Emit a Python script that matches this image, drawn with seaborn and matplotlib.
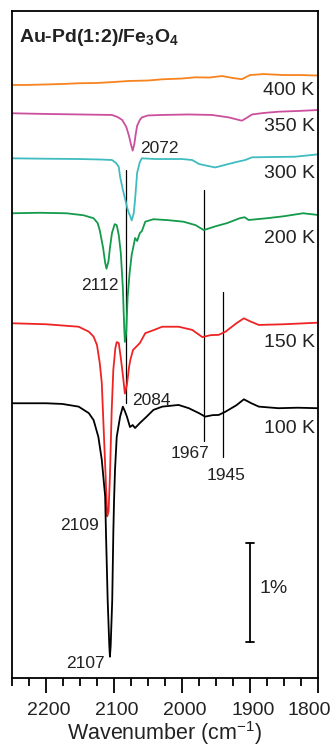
import matplotlib
matplotlib.use('Agg')
import numpy as np
import pandas as pd
import matplotlib.pyplot as plt
from matplotlib.ticker import MultipleLocator
from matplotlib.transforms import ScaledTranslation
import seaborn as sns

# ---------------- data ----------------
temps = ['400 K', '350 K', '300 K', '200 K', '150 K', '100 K']
colors = ['#F7831F', '#CC4F9E', '#3FBCC0', '#139A4B', '#EE2424', '#000000']
offsets = [5.99, 5.697, 5.242, 4.694, 3.583, 2.775]
label_y = [5.889, 5.525, 5.047, 4.391, 3.347, 2.472]

wn_400 = [2250, 2230, 2200, 2175, 2152, 2125, 2100, 2078, 2050, 2029, 2000, 1981,
          1960, 1941, 1925, 1912, 1900, 1880, 1850, 1825, 1800]
ab_400 = [0, 0.0, 0.005, 0.01, 0.017, 0.02, 0.03, 0.04, 0.045, 0.057, 0.065, 0.077,
          0.075, 0.09, 0.07, 0.058, 0.10, 0.11, 0.10, 0.10, 0.095]

wn_350 = [2250, 2200, 2150, 2103, 2095, 2088, 2082, 2078, 2075, 2072.5, 2070, 2068,
          2066, 2062, 2059, 2050, 2029, 1990, 1956, 1931, 1912, 1905, 1897, 1880,
          1858, 1830, 1800]
ab_350 = [0.007, 0.0, -0.005, -0.01, -0.03, -0.06, -0.13, -0.22, -0.31, -0.37, -0.30, -0.2,
          -0.12, -0.06, -0.035, -0.015, -0.01, -0.005, -0.01, -0.035, -0.068, -0.04, -0.005, 0.01,
          0.023, 0.03, 0.04]

wn_300 = [2250, 2200, 2152, 2120, 2103, 2097, 2093, 2091, 2087, 2081, 2079, 2076, 2074,
          2071, 2069, 2066, 2062, 2059, 2040, 2000, 1985, 1975, 1962, 1951, 1937, 1920,
          1907, 1897, 1870, 1834, 1800]
ab_300 = [0.007, 0.003, 0.0, -0.005, -0.01, -0.04, -0.08, -0.18, -0.31, -0.48, -0.53, -0.58, -0.62,
          -0.55, -0.41, -0.14, -0.03, 0.007, 0.0, 0.0, -0.01, -0.05, -0.07, -0.085, -0.06, -0.03,
          -0.01, 0.017, 0.02, 0.023, 0.047]

wn_200 = [2250, 2210, 2170, 2145, 2130, 2124, 2121, 2116, 2113, 2111, 2108, 2106, 2103,
          2099, 2096, 2093, 2090, 2087, 2085, 2084, 2082, 2080, 2077, 2074, 2071, 2069,
          2066, 2062, 2059, 2054, 2042, 2020, 1998, 1980, 1968, 1950, 1934, 1915, 1908,
          1902, 1890, 1875, 1850, 1822, 1800]
ab_200 = [0, 0.005, 0, -0.02, -0.05, -0.1, -0.17, -0.35, -0.5, -0.56, -0.48, -0.35, -0.2,
          -0.11, -0.12, -0.22, -0.4, -0.75, -1.15, -1.3, -1.2, -0.85, -0.6, -0.42, -0.32, -0.25,
          -0.28, -0.2, -0.18, -0.085, -0.06, -0.07, -0.085, -0.12, -0.17, -0.13, -0.1, -0.05, -0.04,
          -0.068, -0.06, -0.05, -0.03, 0, -0.017]

wn_150 = [2250, 2200, 2152, 2137, 2130, 2125, 2121, 2118, 2115, 2112, 2110, 2108, 2106,
          2103.4, 2101, 2098, 2096, 2093, 2090, 2087, 2084, 2081, 2078, 2076, 2072, 2062,
          2054, 2042, 2029, 2005, 1985, 1970, 1958, 1946, 1936, 1920, 1909, 1900, 1887,
          1850, 1800]
ab_150 = [0, -0.01, -0.035, -0.085, -0.135, -0.22, -0.4, -0.6, -1.1, -1.6, -1.95, -1.9, -1.55,
          -0.88, -0.47, -0.25, -0.19, -0.2, -0.35, -0.52, -0.71, -0.62, -0.45, -0.37, -0.27, -0.2,
          -0.1, -0.07, -0.035, -0.035, -0.067, -0.14, -0.12, -0.117, -0.085, 0.0, 0.05, 0.02, -0.017,
          -0.01, 0.006]

wn_100 = [2250, 2200, 2176, 2152, 2137, 2130, 2123, 2118, 2113, 2111.8, 2109.3, 2106.9,
          2106, 2104.9, 2102.6, 2101, 2100, 2098.5, 2096, 2091, 2087, 2084, 2081, 2076.5,
          2072.5, 2069, 2062, 2052, 2042, 2029, 2005, 1990, 1975, 1966, 1955, 1946, 1936,
          1920, 1909, 1898, 1887, 1858, 1830, 1800]
ab_100 = [0, 0.0, -0.007, -0.034, -0.1, -0.17, -0.34, -0.57, -0.94, -1.31, -1.99, -2.45,
          -2.56, -2.45, -1.99, -1.31, -1.0, -0.67, -0.34, -0.135, -0.034, -0.08, -0.135, -0.24,
          -0.22, -0.25, -0.2, -0.135, -0.067, -0.034, -0.017, -0.05, -0.1, -0.135, -0.12, -0.118, -0.085,
          -0.02, 0.04, 0.0, -0.034, -0.05, -0.045, -0.05]

wavenumbers = [wn_400, wn_350, wn_300, wn_200, wn_150, wn_100]
absorb = [ab_400, ab_350, ab_300, ab_200, ab_150, ab_100]

# marker lines
mark_wn = [2082, 1968, 1939]
mark_top = [5.13, 4.93, 3.90]
mark_bot = [2.78, 2.39, 2.235]

# peak labels
peak_text = ['2072', '2112', '2084', '2109', '2107', '1967', '1945']
peak_x = [2061.6, 2093.7, 2074, 2122, 2113.2, 1988, 1935.6]
peak_y = [5.30, 3.919, 2.758, 1.495, 0.101, 2.222, 2.0]
peak_ha = ['left', 'right', 'left', 'right', 'right', 'center', 'center']

# x ticks
tick_vals = [2200, 2100, 2000, 1900, 1800]
tick_labels = ['2200', '2100', '2000', '1900', '1800']

# scale bar (1 %)
bar_wn = 1900
bar_lo, bar_hi = 0.364, 1.364

# ---------------- build table ----------------
rows = []
for t, off, wns, abs_ in zip(temps, offsets, wavenumbers, absorb):
    for w, a in zip(wns, abs_):
        rows.append({'wn': w, 'val': a + off, 'temp': t})
df = pd.DataFrame(rows)

sns.set_theme(style='white')
plt.rcParams['font.family'] = ['Liberation Sans', 'DejaVu Sans']
plt.rcParams['mathtext.default'] = 'regular'

fig = plt.figure(figsize=(3.33, 7.51), dpi=100)
ax = fig.add_axes([12 / 333, 1 - 678 / 751, 306 / 333, 667 / 751])

sns.lineplot(data=df, x='wn', y='val', hue='temp', palette=dict(zip(temps, colors)),
             hue_order=temps, estimator=None, sort=False, legend=False, lw=1.3, ax=ax)

for w, top, bot in zip(mark_wn, mark_top, mark_bot):
    ax.plot([w, w], [bot, top], color='black', lw=0.9, zorder=1)

for t, y in zip(temps, label_y):
    ax.text(1805, y, t, ha='right', va='baseline', fontsize=14, color='#222222')

for s, x, y, ha in zip(peak_text, peak_x, peak_y, peak_ha):
    ax.text(x, y, s, ha=ha, va='baseline', fontsize=12.5, color='#222222')

ax.plot([bar_wn, bar_wn], [bar_lo, bar_hi], color='black', lw=1.3)
ax.plot([bar_wn + 6.5, bar_wn - 6.5], [bar_lo, bar_lo], color='black', lw=1.3)
ax.plot([bar_wn + 6.5, bar_wn - 6.5], [bar_hi, bar_hi], color='black', lw=1.3)
ax.text(1885.3, 0.862, '1%', ha='left', va='baseline', fontsize=14, color='#222222')

ax.text(2239, 6.427, 'Au-Pd(1:2)/Fe$_3$O$_4$', ha='left', va='baseline',
        fontsize=14, fontweight='bold', color='#222222')

ax.set_xlim(2250, 1800)
ax.set_ylim(0, 6.737)
ax.set_yticks([])
ax.set_xticks(tick_vals, tick_labels)
ax.xaxis.set_minor_locator(MultipleLocator(25))
ax.tick_params(axis='x', which='major', bottom=True, direction='out', length=11,
               width=1.3, labelsize=14, pad=6, colors='black', labelcolor='#222222')
ax.tick_params(axis='x', which='minor', bottom=True, direction='out', length=5.5,
               width=1.3, colors='black')
ax.set_xlabel('Wavenumber (cm$^{-1}$)', fontsize=15.5, labelpad=0, color='#222222')
ax.set_ylabel('')
for sp in ax.spines.values():
    sp.set_visible(True)
    sp.set_linewidth(1.3)
    sp.set_color('black')

fig.canvas.draw()
labels = ax.xaxis.get_majorticklabels()
for i, lab in enumerate(labels):
    dx = -9 if i == len(labels) - 1 else 3
    lab.set_transform(lab.get_transform() + ScaledTranslation(dx / 100, 0, fig.dpi_scale_trans))

fig.savefig('out.png', dpi=100, facecolor='white')
